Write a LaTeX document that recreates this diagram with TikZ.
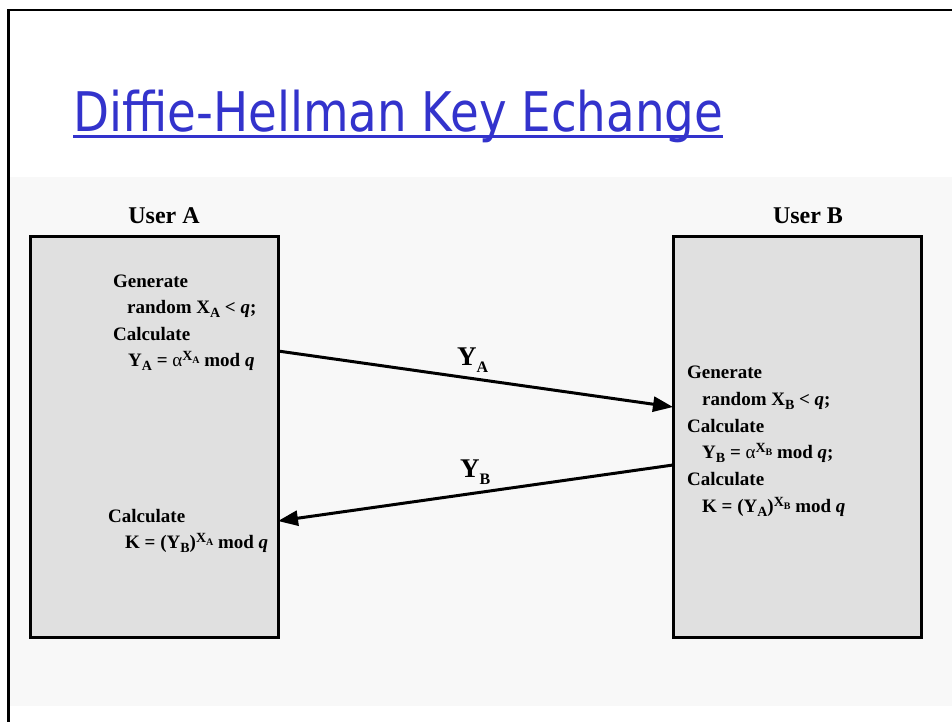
\documentclass[tikz,border=0pt]{standalone}
\usepackage{fontspec}
\setmainfont{Liberation Serif}
\newfontfamily\titlefont{DejaVu Sans}
\usetikzlibrary{arrows.meta,calc}
\definecolor{titleblue}{RGB}{51,51,204}
\definecolor{panelgray}{RGB}{248,248,248}
\definecolor{boxgray}{RGB}{224,224,224}
\newcommand{\lo}[1]{\raisebox{-4pt}{\fontsize{14}{14}\selectfont #1}}
\newcommand{\hiX}[1]{\raisebox{5.5pt}{\fontsize{14}{14}\selectfont X\raisebox{-2.5pt}{\fontsize{10}{10}\selectfont #1}}}
\newcommand{\lblsub}[1]{\raisebox{-7pt}{\fontsize{16}{16}\selectfont #1}}
\newcommand{\qq}{\textit{q}}
\newcommand{\al}{{\mdseries α}}
\begin{document}
\begin{tikzpicture}[x=1pt,y=-1pt,
  userbox/.style={draw=black, fill=boxgray, line width=3pt, minimum width=248pt,
    minimum height=401pt, anchor=north west, inner sep=0pt, outer sep=0pt},
  txt/.style={anchor=base west, inner sep=0pt, font=\bfseries\fontsize{19}{19}\selectfont},
  head/.style={anchor=base, inner sep=0pt, font=\bfseries\fontsize{24}{24}\selectfont},
  lbl/.style={anchor=base west, inner sep=0pt, font=\bfseries\fontsize{27}{27}\selectfont},
  msg/.style={line width=3pt, -{Triangle[length=20pt,width=15pt]}}]
\useasboundingbox (0,0) rectangle (952,721);
\fill[white] (0,0) rectangle (952,721);
\fill[panelgray] (10,177) rectangle (952,706);
\draw[line width=2.5pt] (8.5,740) -- (8.5,10) -- (970,10);
% title
\node[anchor=base west, inner sep=0pt, text=titleblue] (title) at (73,131)
  {\resizebox{650pt}{41.5pt}{\titlefont Diffie-Hellman Key Echange}};
\draw[titleblue, line width=3pt] ([yshift=-5pt]title.base west) -- ([yshift=-5pt]title.base east);
% boxes
\node[userbox] (boxA) at (30,236) {};
\node[userbox] (boxB) at (673,236) {};
\node[head] (userA) at (164,223) {User A};
\node[head] (userB) at (808,223) {User B};
% text A
\node[txt] (a1) at (113,287) {Generate};
\node[txt] (a2) at (127,313) {random X\lo{A} < \qq;};
\node[txt] (a3) at (113,340) {Calculate};
\node[txt] (a4) at (128,366) {Y\lo{A} = \al\hiX{A} mod \qq};
\node[txt] (a5) at (108,522) {Calculate};
\node[txt] (a6) at (125,548) {K = (Y\lo{B})\hiX{A} mod \qq};
% text B
\node[txt] (b1) at (687,378) {Generate};
\node[txt] (b2) at (702,405) {random X\lo{B} < \qq;};
\node[txt] (b3) at (687,432) {Calculate};
\node[txt] (b4) at (702,458) {Y\lo{B} = \al\hiX{B} mod \qq;};
\node[txt] (b5) at (687,485) {Calculate};
\node[txt] (b6) at (702,512) {K = (Y\lo{A})\hiX{B} mod \qq};
% messages
\draw[msg] ([yshift=-115pt]boxA.north east) -- ([yshift=-171pt]boxB.north west);
\draw[msg] ([yshift=-229pt]boxB.north west) -- ([yshift=-285pt]boxA.north east);
\node[lbl] (ya) at (457,365) {Y\lblsub{A}};
\node[lbl] (yb) at (460,477) {Y\lblsub{B}};
\end{tikzpicture}
\end{document}
